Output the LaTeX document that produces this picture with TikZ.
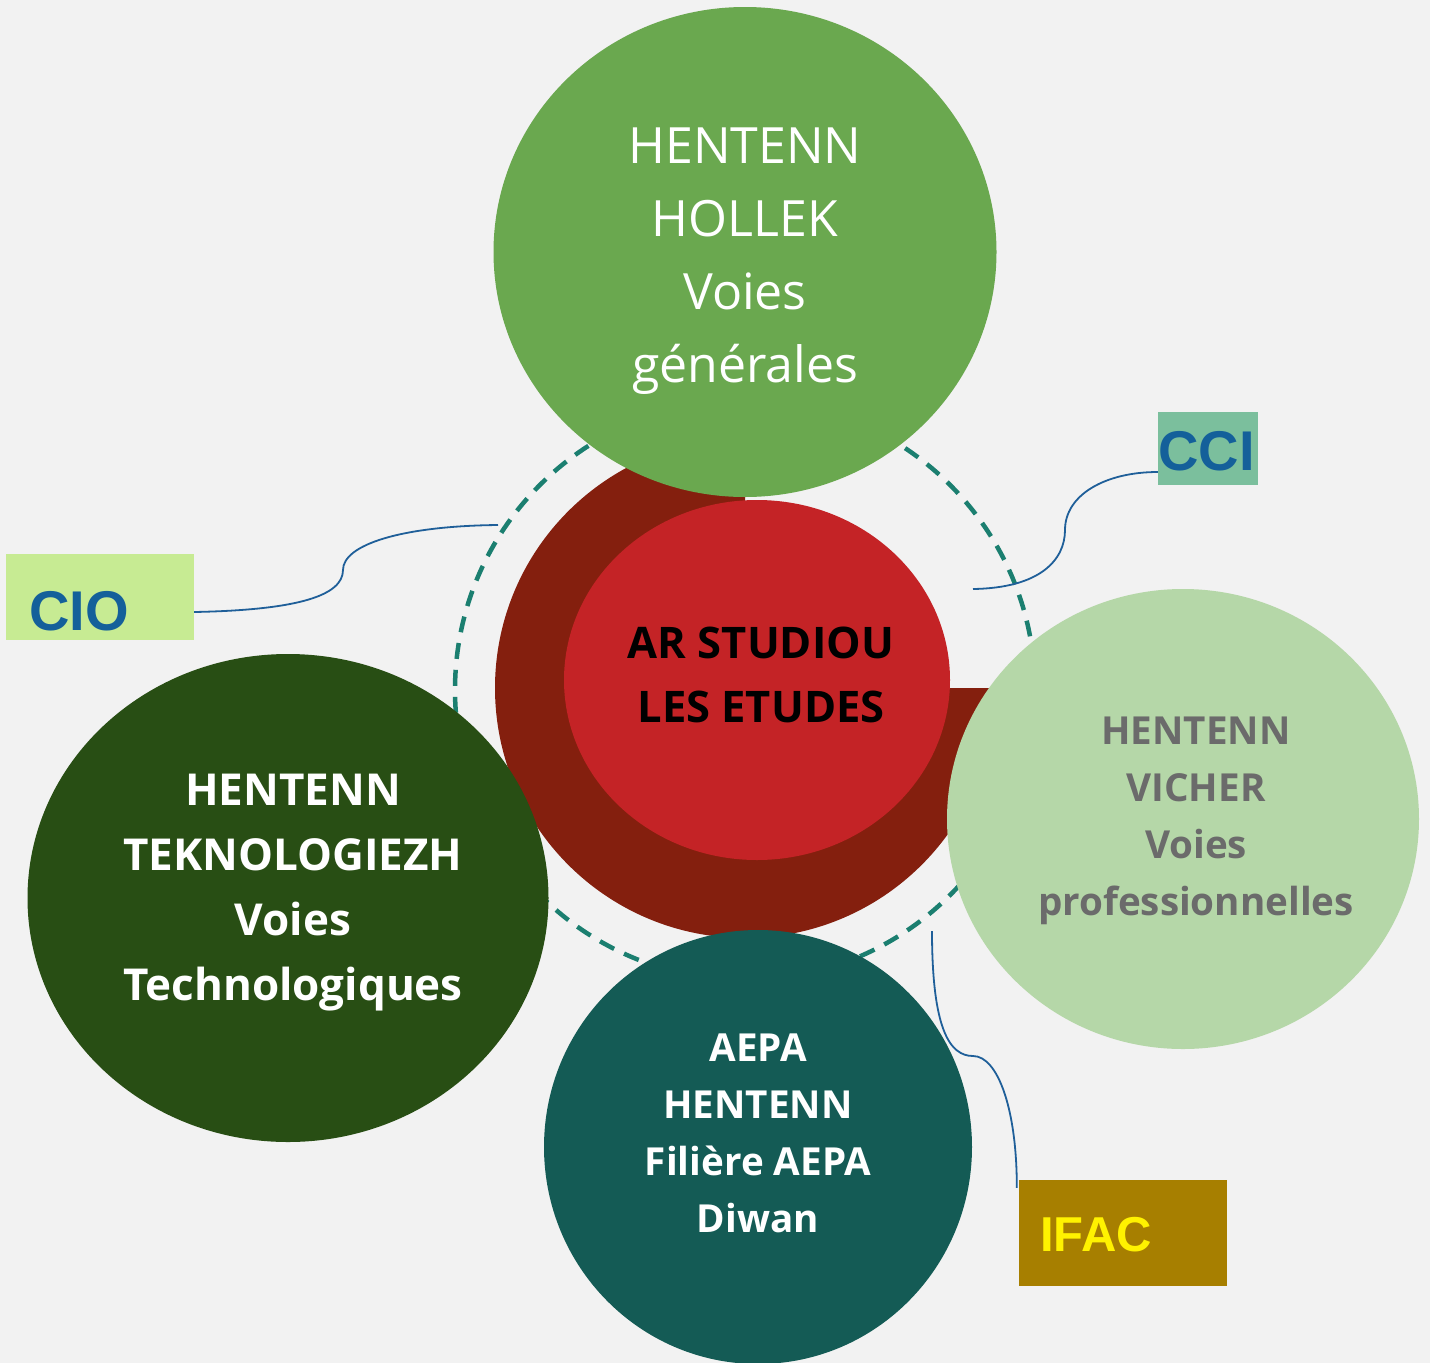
\documentclass[tikz,border=0pt]{standalone}
\usepackage{fontspec}
\setmainfont{Open Sans}
\newfontfamily\boxfont{Liberation Sans}
\usetikzlibrary{shapes.geometric}
\definecolor{bg}{HTML}{F2F2F2}
\definecolor{gtop}{HTML}{6AA84F}
\definecolor{dred}{HTML}{841F0E}
\definecolor{redc}{HTML}{C42326}
\definecolor{dgreen}{HTML}{284E14}
\definecolor{lgreen}{HTML}{B5D7A8}
\definecolor{tealc}{HTML}{145B55}
\definecolor{dashc}{HTML}{1B7F70}
\definecolor{connc}{HTML}{1F5F99}
\definecolor{ciob}{HTML}{C7EB93}
\definecolor{ccib}{HTML}{7BBF9D}
\definecolor{ifacb}{HTML}{A77F00}
\definecolor{graytxt}{HTML}{6B6B6B}
\definecolor{bluetxt}{HTML}{14609A}
\tikzset{
  blob/.style={ellipse, inner sep=0pt, draw=none},
  ctext/.style={align=center, inner sep=0pt},
  labbox/.style={rectangle, inner sep=0pt, draw=none},
  labtext/.style={inner sep=0pt, anchor=base west, font=\boxfont\bfseries},
  conn/.style={draw=connc, line width=1.8pt},
}
\begin{document}
\begin{tikzpicture}[x=1pt,y=-1pt]
\useasboundingbox (0,0) rectangle (1430,1363);
\fill[bg] (0,0) rectangle (1430,1363);
% dashed ring
\node[circle, draw=dashc, line width=4.5pt, dash pattern=on 16pt off 11pt, minimum size=580pt, inner sep=0pt] (ring) at (745,690) {};
% dark red three-quarter disc
\fill[dred] (745,688) -- (745,438) arc[start angle=90, end angle=360, radius=250pt] -- cycle;
% inner red
\node[blob, fill=redc, minimum width=386pt, minimum height=360pt] (core) at (757,680) {};
% satellites
\node[blob, fill=gtop, minimum width=503pt, minimum height=490pt] (top) at (745,252) {};
\node[blob, fill=dgreen, minimum width=521pt, minimum height=488pt] (left) at (288,898) {};
\node[blob, fill=lgreen, minimum width=472pt, minimum height=460pt] (right) at (1183,819) {};
\node[blob, fill=tealc, minimum width=428pt, minimum height=434pt] (bottom) at (758,1147) {};
% texts
\node[ctext, text=white, font=\fontsize{50}{73}\selectfont] (ttop) at (745,261) {HENTENN\\HOLLEK\\Voies\\générales};
\node[ctext, text=black, font=\bfseries\fontsize{43.5}{64}\selectfont] (tcore) at (761,675) {AR STUDIOU\\LES ETUDES};
\node[ctext, text=white, font=\bfseries\fontsize{44}{65}\selectfont] (tleft) at (293,893) {HENTENN\\TEKNOLOGIEZH\\Voies\\Technologiques};
\node[ctext, text=graytxt, font=\bfseries\fontsize{38.6}{57}\selectfont] (tright) at (1196,821) {HENTENN\\VICHER\\Voies\\professionnelles};
\node[ctext, text=white, font=\bfseries\fontsize{38.6}{57}\selectfont] (tbottom) at (758,1133) {AEPA\\HENTENN\\Filière AEPA\\Diwan};
% label boxes
\node[labbox, fill=ciob, minimum width=188pt, minimum height=86pt] (cio) at (100,597) {};
\node[labtext, text=bluetxt, font=\boxfont\bfseries\fontsize{56}{60}\selectfont] (ciot) at (29,630) {CIO};
\node[labbox, fill=ccib, minimum width=100pt, minimum height=73pt] (cci) at (1208,448.5) {};
\node[labtext, text=bluetxt, font=\boxfont\bfseries\fontsize{56}{60}\selectfont] (ccit) at (1158,470) {CCI};
\node[labbox, fill=ifacb, minimum width=208pt, minimum height=106pt] (ifac) at (1123,1233) {};
\node[labtext, text=yellow, font=\boxfont\bfseries\fontsize{49}{55}\selectfont] (ifact) at (1040,1251) {IFAC};
% connector free ends
\coordinate (cioend) at (498,525);
\coordinate (cciend) at (973,589);
\coordinate (ifacend) at (932,931);
% connectors
\draw[conn] ([yshift=-15pt]cio.east) .. controls (300,610) and (343,595) .. (343,570) .. controls (343,545) and (400,526) .. (cioend);
\draw[conn] (cciend) .. controls (1040,588) and (1065,560) .. (1065,530) .. controls (1065,495) and (1105,472) .. ([yshift=-23.5pt]cci.west);
\draw[conn] (ifacend) .. controls (932,1030) and (950,1056) .. (973,1056) .. controls (998,1056) and (1017,1110) .. ([xshift=-2pt,yshift=-8pt]ifac.north west);
\end{tikzpicture}
\end{document}
